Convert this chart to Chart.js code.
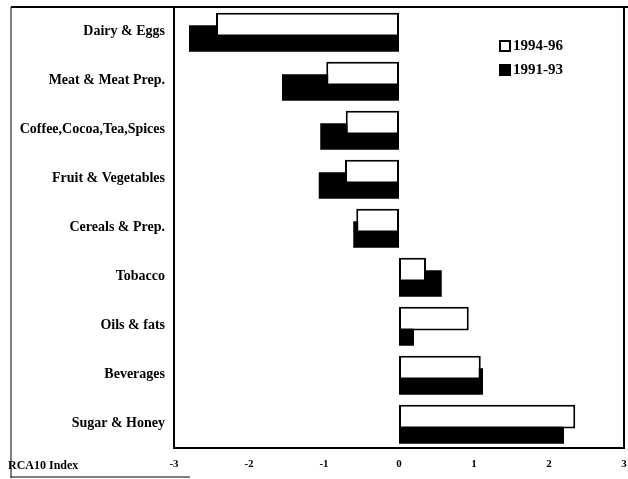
<!DOCTYPE html>
<html>
<head>
  <meta charset="UTF-8">
  <title>RCA10 Index</title>
  <script src="https://cdn.jsdelivr.net/npm/chart.js"></script>
  <style>
    html, body { margin: 0; padding: 0; background: #fff; overflow: hidden; }
    #wrap { width: 628px; height: 479px; position: relative; }
    canvas { display: block; }
  </style>
</head>
<body>
  <div id="wrap"><canvas id="chartRca"></canvas></div>

  <script>
    const categories = ['Dairy & Eggs', 'Meat & Meat Prep.', 'Coffee,Cocoa,Tea,Spices', 'Fruit & Vegetables',
      'Cereals & Prep.', 'Tobacco', 'Oils & fats', 'Beverages', 'Sugar & Honey'];
    const seriesLabels = ['1994-96', '1991-93'];
    const values9496 = [-2.44, -0.97, -0.71, -0.72, -0.57, 0.36, 0.93, 1.09, 2.35];
    const values9193 = [-2.80, -1.56, -1.05, -1.07, -0.61, 0.57, 0.20, 1.12, 2.20];
    const xTicks = [-3, -2, -1, 0, 1, 2, 3];

    const serif = "'Liberation Serif', 'DejaVu Serif', serif";

    // frame, axis caption and legend drawn by hand
    const decor = {
      id: 'decor',
      afterDraw(chart) {
        const { ctx, chartArea: a } = chart;
        ctx.save();
        ctx.strokeStyle = '#000';
        ctx.lineWidth = 2;
        ctx.beginPath();
        ctx.moveTo(11, a.top);
        ctx.lineTo(628, a.top);
        ctx.moveTo(a.right, a.top);
        ctx.lineTo(a.right, a.bottom);
        ctx.stroke();

        ctx.lineWidth = 1;
        ctx.beginPath();
        ctx.moveTo(11, a.top);
        ctx.lineTo(11, 478);
        ctx.moveTo(11, 477);
        ctx.lineTo(190, 477);
        ctx.stroke();

        ctx.fillStyle = '#000';
        ctx.font = 'bold 12px ' + serif;
        ctx.textBaseline = 'middle';
        ctx.textAlign = 'left';
        ctx.fillText('RCA10 Index', 8, 466);

        // legend
        ctx.font = 'bold 15px ' + serif;
        chart.data.datasets.forEach((ds, i) => {
          const y = 45 + i * 24;
          ctx.fillStyle = ds.backgroundColor;
          ctx.fillRect(499, y - 5, 12, 12);
          ctx.lineWidth = 2;
          ctx.strokeStyle = '#000';
          ctx.strokeRect(500, y - 4, 10, 10);
          ctx.fillStyle = '#000';
          ctx.fillText(ds.label, 513, y + 1);
        });
        ctx.restore();
      }
    };

    new Chart(document.getElementById('chartRca'), {
      type: 'bar',
      data: {
        labels: categories,
        datasets: [{
          label: seriesLabels[0],
          data: values9496,
          backgroundColor: '#ffffff',
          borderColor: '#000000',
          borderWidth: 2,
          borderSkipped: false,
          barPercentage: 1.7
        }, {
          label: seriesLabels[1],
          data: values9193,
          backgroundColor: '#000000',
          borderColor: '#000000',
          borderWidth: 0,
          barPercentage: 1.9
        }]
      },
      options: {
        indexAxis: 'y',
        responsive: true,
        maintainAspectRatio: false,
        animation: false,
        categoryPercentage: 0.57,
        layout: { padding: { left: 0, right: 4, top: 7, bottom: 0 } },
        plugins: {
          legend: { display: false },
          tooltip: { enabled: false }
        },
        scales: {
          x: {
            min: -3,
            max: 3,
            afterBuildTicks: s => { s.ticks = xTicks.map(v => ({ value: v })); },
            afterFit: s => { s.height = 31; s.paddingLeft = 0; s.paddingRight = 0; },
            grid: { display: false, drawTicks: false },
            border: { display: true, color: '#000', width: 2 },
            ticks: {
              color: '#000',
              padding: 10,
              font: { family: serif, size: 11, weight: 'bold' },
              callback: v => String(v)
            }
          },
          y: {
            afterFit: s => { s.width = 174; s.paddingTop = 0; s.paddingBottom = 0; },
            grid: { display: false, drawTicks: false },
            border: { display: true, color: '#000', width: 2 },
            ticks: {
              color: '#000',
              padding: 9,
              font: { family: serif, size: 14, weight: 'bold' }
            }
          }
        }
      },
      plugins: [decor]
    });
  </script>
</body>
</html>
